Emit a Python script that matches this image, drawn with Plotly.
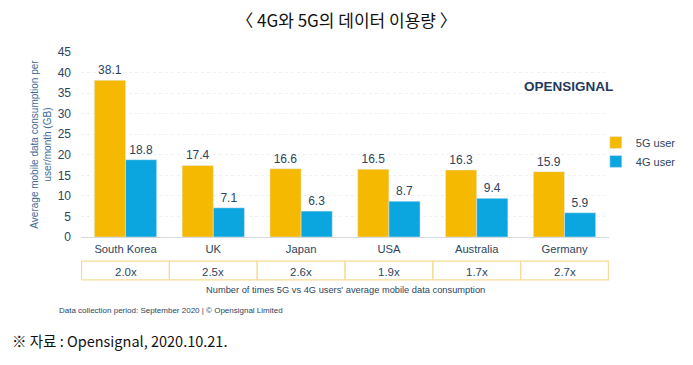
import plotly.graph_objects as go

countries = ["South Korea", "UK", "Japan", "USA", "Australia", "Germany"]
user_5g = [38.1, 17.4, 16.6, 16.5, 16.3, 15.9]
user_4g = [18.8, 7.1, 6.3, 8.7, 9.4, 5.9]
ratios = ["2.0x", "2.5x", "2.6x", "1.9x", "1.7x", "2.7x"]
y_ticks = [0, 5, 10, 15, 20, 25, 30, 35, 40, 45]

C5 = "#F4B900"
C4 = "#0BA5DF"
TXT = "#2C4560"

fig = go.Figure()
fig.add_trace(go.Bar(x=countries, y=user_5g, name="5G user", marker_color=C5,
                     text=[f"{v:.1f}" for v in user_5g], textposition="outside",
                     textfont=dict(size=12, color=TXT), cliponaxis=False))
fig.add_trace(go.Bar(x=countries, y=user_4g, name="4G user", marker_color=C4,
                     text=[f"{v:.1f}" for v in user_4g], textposition="outside",
                     textfont=dict(size=12, color=TXT), cliponaxis=False))

# ratio table cells
for i, (c, r) in enumerate(zip(countries, ratios)):
    fig.add_shape(type="rect", xref="x", yref="paper", x0=i - 0.5, x1=i + 0.5,
                  y0=-0.232, y1=-0.130, line=dict(color="#F6DC98", width=1.2),
                  fillcolor="rgba(0,0,0,0)")
    fig.add_annotation(x=c, xref="x", yref="paper", y=-0.187, yanchor="middle",
                       xanchor="center", text=r, showarrow=False,
                       font=dict(size=11.5, color=TXT))

fig.add_annotation(x=0.5, xref="paper", yref="paper", y=-0.286, yanchor="middle",
                   xanchor="center",
                   text="Number of times 5G vs 4G users' average mobile data consumption",
                   showarrow=False, font=dict(size=9.3, color=TXT))
fig.add_annotation(x=-0.045, xref="paper", yref="paper", y=-0.395, xanchor="left",
                   yanchor="middle",
                   text="Data collection period: September 2020 | © Opensignal Limited",
                   showarrow=False, font=dict(size=8, color=TXT))
fig.add_annotation(x=1.011, xref="paper", yref="paper", y=0.816, xanchor="right",
                   yanchor="middle",
                   text="<b>OPENSIGNAL</b>", showarrow=False,
                   font=dict(size=13.5, color="#1E3A5C", family="Arial"))
fig.add_annotation(xref="paper", yref="paper", x=-0.134, y=-0.557, xanchor="left",
                   yanchor="middle",
                   text="※ 자료 : Opensignal, 2020.10.21.", showarrow=False,
                   font=dict(family="Noto Sans CJK KR", size=14.5, color="#111"))

# page body has an 8px default margin; figure is sized/positioned to compensate
fig.update_layout(
    width=677, height=349,
    margin=dict(l=73, r=76, t=44, b=120, autoexpand=False),
    paper_bgcolor="white", plot_bgcolor="white",
    font=dict(family="Liberation Sans, Arial", color=TXT),
    bargap=0.29, bargroupgap=0,
    title=dict(text="〈 4G와 5G의 데이터 이용량 〉", x=0.5, xanchor="center", y=0.962,
               yanchor="middle", font=dict(family="Noto Sans CJK KR", size=17, color="#111")),
    legend=dict(x=0.975, y=0.46, xanchor="left", yanchor="middle",
                font=dict(size=11, color=TXT), itemwidth=30, tracegroupgap=2,
                bgcolor="rgba(0,0,0,0)"),
    showlegend=True,
)
fig.update_xaxes(showline=False, ticks="", automargin=False, ticklabelstandoff=4,
                 tickfont=dict(size=11.2, color=TXT))
fig.update_yaxes(range=[0, 45], tickvals=y_ticks, showgrid=True, automargin=False,
                 gridcolor="#EEF1F4", griddash="dot", zeroline=True,
                 zerolinecolor="#D5DADF", zerolinewidth=1,
                 tickfont=dict(size=12, color=TXT), ticklabelstandoff=9,
                 title=dict(text="Average mobile data consumption per<br>user/month (GB)",
                            font=dict(size=10, color="#3C6A95"), standoff=4))

fig.write_html("out.html")
